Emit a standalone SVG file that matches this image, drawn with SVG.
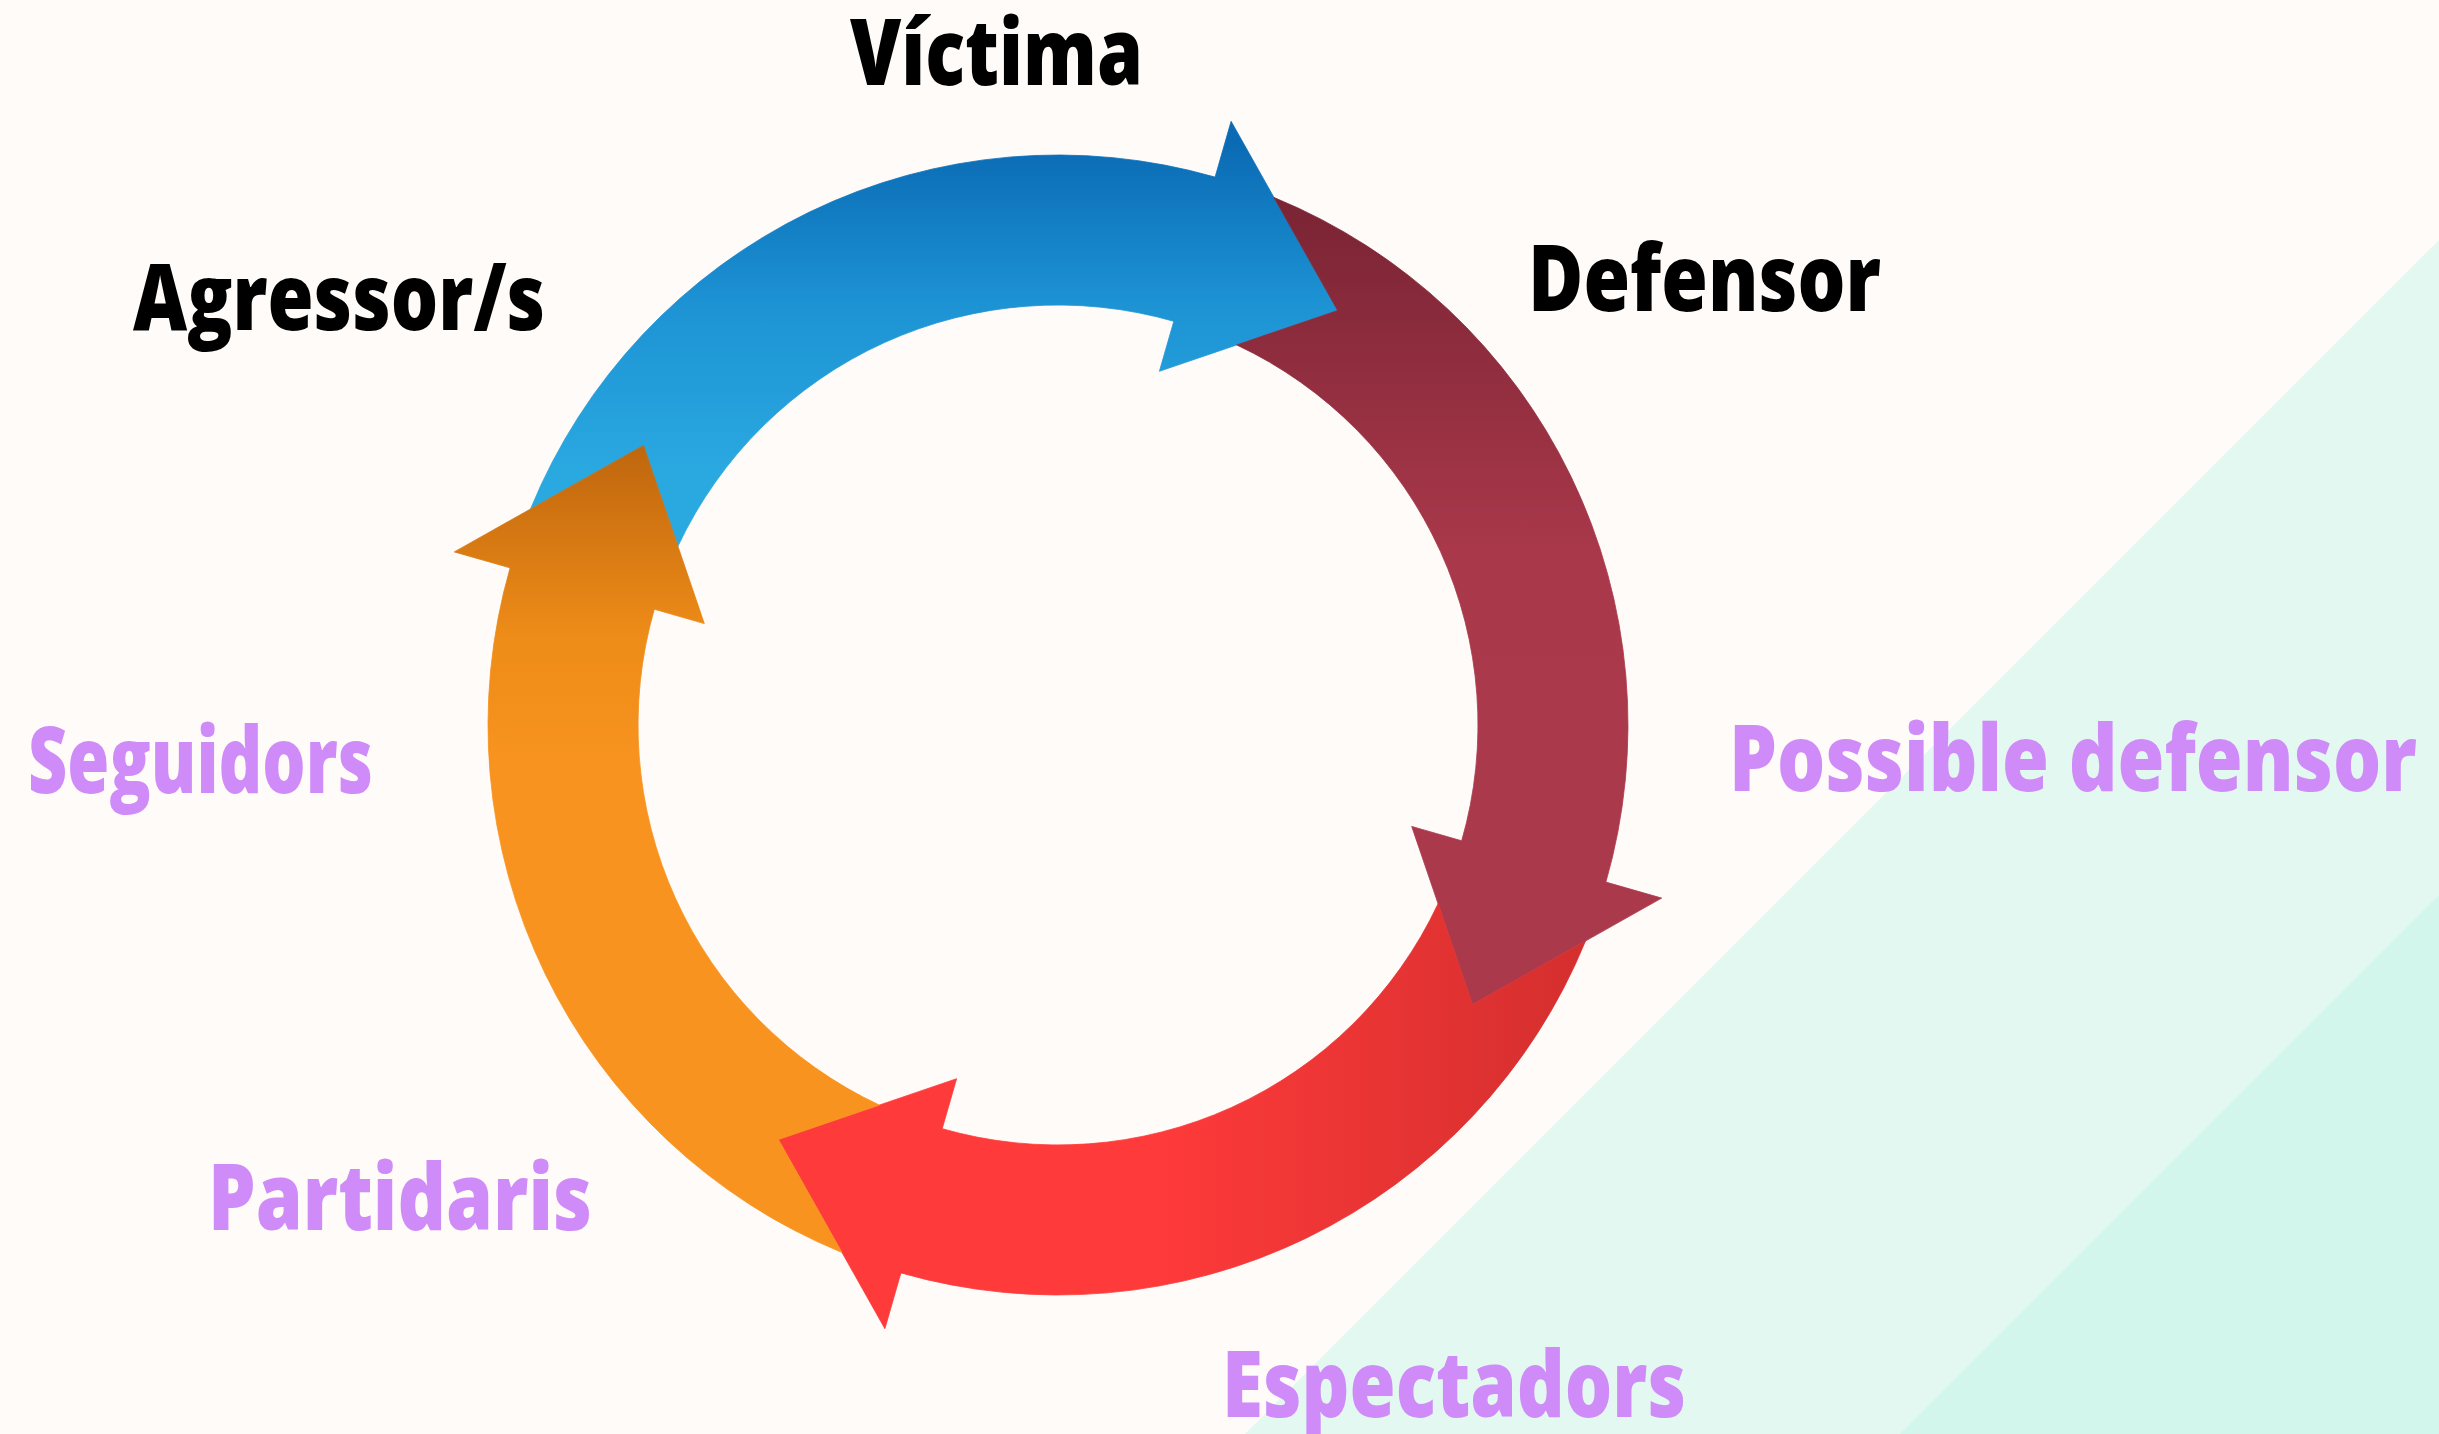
<svg xmlns="http://www.w3.org/2000/svg" width="2439" height="1434" viewBox="0 0 2439 1434">
  <style>
    .lbl { font-family: "Open Sans", "Liberation Sans", sans-serif; font-weight: 800; font-size: 92px; }
    .dark { fill: #000000; }
    .lav { fill: #CF8BF8; }
  </style>
  <defs>
    <linearGradient id="gBlue" gradientUnits="userSpaceOnUse" x1="0" y1="140" x2="0" y2="470">
      <stop offset="0" stop-color="#0A6AB3"/>
      <stop offset="0.5" stop-color="#1D93D4"/>
      <stop offset="1" stop-color="#2AA8E0"/>
    </linearGradient>
    <linearGradient id="gMaroon" gradientUnits="userSpaceOnUse" x1="0" y1="200" x2="0" y2="700">
      <stop offset="0" stop-color="#7A2434"/>
      <stop offset="0.7" stop-color="#A8384A"/>
      <stop offset="1" stop-color="#AB394C"/>
    </linearGradient>
    <linearGradient id="gRed" gradientUnits="userSpaceOnUse" x1="1600" y1="0" x2="1150" y2="0">
      <stop offset="0" stop-color="#D32E2E"/>
      <stop offset="1" stop-color="#FF3A3A"/>
    </linearGradient>
    <linearGradient id="gOrange" gradientUnits="userSpaceOnUse" x1="0" y1="450" x2="0" y2="760">
      <stop offset="0" stop-color="#C0670E"/>
      <stop offset="0.6" stop-color="#EE8C18"/>
      <stop offset="1" stop-color="#F7931E"/>
    </linearGradient>
  </defs>

  <g id="background">
    <rect x="0" y="0" width="2439" height="1434" fill="#FEFBF8"/>
    <polygon points="2439,240 2439,1434 1245,1434" fill="#E3F8F0"/>
    <polygon points="2439,895 2439,1434 1900,1434" fill="#D2F6EB"/>
  </g>

  <g id="connectors">
    <path id="arrow-victima" fill="url(#gBlue)" stroke="url(#gBlue)" stroke-width="0.8" d="M530.5,509.0 A570,570 0 0 1 1215.1,177.1 L1231.1,121.3 L1337.6,310.5 L1159.4,371.3 L1173.8,321.3 A420,420 0 0 0 677.9,546.3 L643.5,445.4 Z"/>
    <path id="arrow-defensor" fill="url(#gMaroon)" stroke="url(#gMaroon)" stroke-width="0.8" d="M1274.0,197.5 A570,570 0 0 1 1605.9,882.1 L1661.7,898.1 L1472.5,1004.6 L1411.7,826.4 L1461.7,840.8 A420,420 0 0 0 1236.7,344.9 L1337.6,310.5 Z"/>
    <path id="arrow-espectadors" fill="url(#gRed)" stroke="url(#gRed)" stroke-width="0.8" d="M1585.5,941.0 A570,570 0 0 1 900.9,1272.9 L884.9,1328.7 L778.4,1139.5 L956.6,1078.7 L942.2,1128.7 A420,420 0 0 0 1438.1,903.7 L1472.5,1004.6 Z"/>
    <path id="arrow-agressor" fill="url(#gOrange)" stroke="url(#gOrange)" stroke-width="0.8" d="M842.0,1252.5 A570,570 0 0 1 510.1,567.9 L454.3,551.9 L643.5,445.4 L704.3,623.6 L654.3,609.2 A420,420 0 0 0 879.3,1105.1 L778.4,1139.5 Z"/>
  </g>

  <g id="node-victima"><text class="lbl dark" x="850" y="85" textLength="293" lengthAdjust="spacingAndGlyphs">Víctima</text></g>
  <g id="node-agressor"><text class="lbl dark" x="133" y="330" textLength="412" lengthAdjust="spacingAndGlyphs">Agressor/s</text></g>
  <g id="node-defensor"><text class="lbl dark" x="1528" y="311" textLength="353" lengthAdjust="spacingAndGlyphs">Defensor</text></g>
  <g id="node-possible-defensor"><text class="lbl lav" x="1729" y="791" textLength="688" lengthAdjust="spacingAndGlyphs">Possible defensor</text></g>
  <g id="node-espectadors"><text class="lbl lav" x="1222" y="1417" textLength="464" lengthAdjust="spacingAndGlyphs">Espectadors</text></g>
  <g id="node-seguidors"><text class="lbl lav" x="28" y="793" textLength="345" lengthAdjust="spacingAndGlyphs">Seguidors</text></g>
  <g id="node-partidaris"><text class="lbl lav" x="208" y="1230" textLength="384" lengthAdjust="spacingAndGlyphs">Partidaris</text></g>
</svg>
